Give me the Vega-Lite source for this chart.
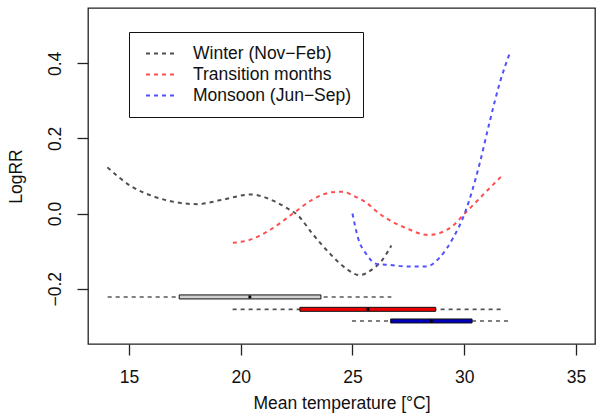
{
  "$schema": "https://vega.github.io/schema/vega-lite/v6.json",
  "width": 507,
  "height": 336,
  "autosize": {"type": "none"},
  "padding": {"left": 88, "top": 8, "right": 9, "bottom": 76},
  "background": "white",
  "config": {
    "view": {"stroke": "#222", "strokeWidth": 1.3},
    "axis": {
      "labelFont": "Liberation Sans", "labelFontSize": 17.5, "labelColor": "#111",
      "titleFont": "Liberation Sans", "titleFontSize": 17.5, "titleFontWeight": "normal", "titleColor": "#111",
      "tickColor": "#222", "tickSize": 11, "tickWidth": 1.3, "domain": false, "grid": false
    }
  },
  "datasets": {
    "curves": [
      {"season": "Winter (Nov\u2212Feb)", "temp": 14.04, "logrr": 0.123},
      {"season": "Winter (Nov\u2212Feb)", "temp": 15.09, "logrr": 0.073},
      {"season": "Winter (Nov\u2212Feb)", "temp": 16.14, "logrr": 0.045},
      {"season": "Winter (Nov\u2212Feb)", "temp": 17.33, "logrr": 0.028},
      {"season": "Winter (Nov\u2212Feb)", "temp": 18.07, "logrr": 0.025},
      {"season": "Winter (Nov\u2212Feb)", "temp": 19.12, "logrr": 0.036},
      {"season": "Winter (Nov\u2212Feb)", "temp": 20.5, "logrr": 0.051},
      {"season": "Winter (Nov\u2212Feb)", "temp": 21.0, "logrr": 0.045},
      {"season": "Winter (Nov\u2212Feb)", "temp": 21.5, "logrr": 0.033},
      {"season": "Winter (Nov\u2212Feb)", "temp": 22.0, "logrr": 0.017},
      {"season": "Winter (Nov\u2212Feb)", "temp": 22.56, "logrr": -0.005},
      {"season": "Winter (Nov\u2212Feb)", "temp": 23.23, "logrr": -0.055},
      {"season": "Winter (Nov\u2212Feb)", "temp": 23.98, "logrr": -0.106},
      {"season": "Winter (Nov\u2212Feb)", "temp": 24.73, "logrr": -0.147},
      {"season": "Winter (Nov\u2212Feb)", "temp": 25.32, "logrr": -0.164},
      {"season": "Winter (Nov\u2212Feb)", "temp": 25.92, "logrr": -0.147},
      {"season": "Winter (Nov\u2212Feb)", "temp": 26.29, "logrr": -0.127},
      {"season": "Winter (Nov\u2212Feb)", "temp": 26.74, "logrr": -0.085},
      {"season": "Transition months", "temp": 19.65, "logrr": -0.078},
      {"season": "Transition months", "temp": 20.4, "logrr": -0.070},
      {"season": "Transition months", "temp": 21.3, "logrr": -0.044},
      {"season": "Transition months", "temp": 22.34, "logrr": 0.0},
      {"season": "Transition months", "temp": 23.23, "logrr": 0.038},
      {"season": "Transition months", "temp": 24.13, "logrr": 0.057},
      {"season": "Transition months", "temp": 24.6, "logrr": 0.058},
      {"season": "Transition months", "temp": 25.02, "logrr": 0.048},
      {"season": "Transition months", "temp": 25.6, "logrr": 0.030},
      {"season": "Transition months", "temp": 26.2, "logrr": 0.0},
      {"season": "Transition months", "temp": 27.41, "logrr": -0.039},
      {"season": "Transition months", "temp": 28.38, "logrr": -0.057},
      {"season": "Transition months", "temp": 29.35, "logrr": -0.039},
      {"season": "Transition months", "temp": 30.02, "logrr": 0.0},
      {"season": "Transition months", "temp": 31.14, "logrr": 0.068},
      {"season": "Transition months", "temp": 31.73, "logrr": 0.103},
      {"season": "Monsoon (Jun\u2212Sep)", "temp": 25.0, "logrr": 0.0},
      {"season": "Monsoon (Jun\u2212Sep)", "temp": 25.25, "logrr": -0.065},
      {"season": "Monsoon (Jun\u2212Sep)", "temp": 25.62, "logrr": -0.108},
      {"season": "Monsoon (Jun\u2212Sep)", "temp": 26.07, "logrr": -0.134},
      {"season": "Monsoon (Jun\u2212Sep)", "temp": 26.66, "logrr": -0.137},
      {"season": "Monsoon (Jun\u2212Sep)", "temp": 27.56, "logrr": -0.141},
      {"season": "Monsoon (Jun\u2212Sep)", "temp": 28.31, "logrr": -0.141},
      {"season": "Monsoon (Jun\u2212Sep)", "temp": 28.9, "logrr": -0.117},
      {"season": "Monsoon (Jun\u2212Sep)", "temp": 29.5, "logrr": -0.065},
      {"season": "Monsoon (Jun\u2212Sep)", "temp": 30.02, "logrr": 0.0},
      {"season": "Monsoon (Jun\u2212Sep)", "temp": 30.69, "logrr": 0.133},
      {"season": "Monsoon (Jun\u2212Sep)", "temp": 31.14, "logrr": 0.245},
      {"season": "Monsoon (Jun\u2212Sep)", "temp": 31.59, "logrr": 0.348},
      {"season": "Monsoon (Jun\u2212Sep)", "temp": 32.03, "logrr": 0.426}
    ],
    "boxes": [
      {"season": "Winter (Nov\u2212Feb)", "lo": 14.05, "q1": 17.25, "med": 20.41, "q3": 23.59, "hi": 26.74, "at": -0.222},
      {"season": "Transition months", "lo": 19.64, "q1": 22.65, "med": 25.69, "q3": 28.72, "hi": 31.76, "at": -0.255},
      {"season": "Monsoon (Jun\u2212Sep)", "lo": 24.98, "q1": 26.71, "med": 28.53, "q3": 30.35, "hi": 32.08, "at": -0.286}
    ]
  },
  "layer": [
    {
      "mark": {"type": "rule", "color": "#222", "strokeWidth": 1.3},
      "encoding": {"y": {"datum": 0, "type": "quantitative", "scale": {"domain": [-0.334, 0.534], "nice": false, "zero": false}}}
    },
    {
      "data": {"name": "curves"},
      "mark": {"type": "line", "strokeDash": [4, 4], "strokeWidth": 2, "interpolate": "monotone"},
      "encoding": {
        "x": {"field": "temp", "type": "quantitative", "scale": {"domain": [13.17, 35.85], "nice": false, "zero": false},
              "axis": {"values": [15, 20, 25, 30, 35], "title": "Mean temperature [\u00b0C]", "labelBaseline": "middle", "labelPadding": 22, "titleBaseline": "middle", "titleY": 59}},
        "y": {"field": "logrr", "type": "quantitative", "scale": {"domain": [-0.334, 0.534], "nice": false, "zero": false},
              "axis": {"values": [-0.2, 0, 0.2, 0.4], "format": ".1f", "title": "LogRR", "labelAngle": -90, "labelAlign": "center", "labelBaseline": "middle", "labelPadding": 22, "titleAngle": -90, "titleBaseline": "middle", "titleAlign": "center", "titleX": -72, "titleY": 168}},
        "stroke": {"field": "season", "type": "nominal",
                   "scale": {"domain": ["Winter (Nov\u2212Feb)", "Transition months", "Monsoon (Jun\u2212Sep)"], "range": ["#505050", "#ff5050", "#5050ff"]},
                   "legend": {"title": null, "orient": "none", "legendX": 41, "legendY": 24, "strokeColor": "#111", "fillColor": "white", "padding": 11,
                              "symbolType": "stroke", "symbolSize": 900, "symbolStrokeWidth": 2, "symbolDash": [4, 4], "symbolOffset": 5,
                              "labelFont": "Liberation Sans", "labelFontSize": 17.5, "labelColor": "#111", "labelOffset": 16, "clipHeight": 21, "rowPadding": 0}}
      }
    },
    {
      "data": {"name": "boxes"},
      "mark": {"type": "rule", "color": "#555", "strokeDash": [4, 4], "strokeWidth": 1.6},
      "encoding": {
        "x": {"field": "lo", "type": "quantitative"},
        "x2": {"field": "hi"},
        "y": {"field": "at", "type": "quantitative"}
      }
    },
    {
      "data": {"name": "boxes"},
      "mark": {"type": "bar", "height": 4, "stroke": "#111", "strokeWidth": 1},
      "encoding": {
        "x": {"field": "q1", "type": "quantitative"},
        "x2": {"field": "q3"},
        "y": {"field": "at", "type": "quantitative"},
        "fill": {"field": "season", "type": "nominal", "legend": null,
                 "scale": {"domain": ["Winter (Nov\u2212Feb)", "Transition months", "Monsoon (Jun\u2212Sep)"], "range": ["#d0d0d0", "#ee0000", "#0000bb"]}}
      }
    },
    {
      "data": {"name": "boxes"},
      "mark": {"type": "point", "shape": "square", "filled": true, "size": 8, "color": "#000", "opacity": 1},
      "encoding": {
        "x": {"field": "med", "type": "quantitative"},
        "y": {"field": "at", "type": "quantitative"}
      }
    }
  ]
}
